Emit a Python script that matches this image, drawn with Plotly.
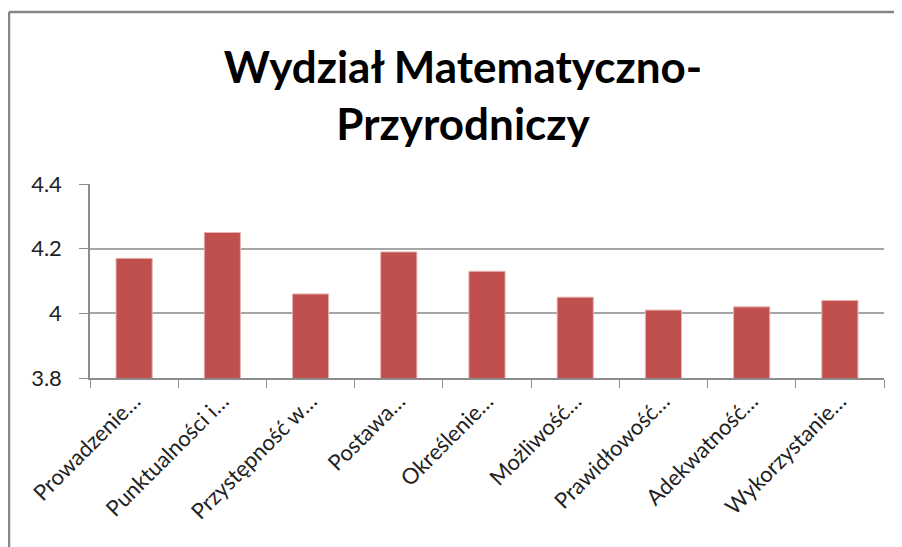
import plotly.graph_objects as go

categories = ["Prowadzenie…", "Punktualności i…", "Przystępność w…", "Postawa…",
              "Określenie…", "Możliwość…", "Prawidłowość…", "Adekwatność…", "Wykorzystanie…"]
values = [4.17, 4.25, 4.06, 4.19, 4.13, 4.05, 4.01, 4.02, 4.04]
y_ticks = [3.8, 4.0, 4.2, 4.4]
y_tick_labels = ["3.8", "4", "4.2", "4.4"]

# page body has an 8px margin; figure coordinates are offset by 8px
OFF = 8
W, H = 902 - OFF, 547 - OFF
L, R, T, B = 90 - OFF, 18, 184 - OFF, 169
pw, ph = W - L - R, H - T - B

def px_x(px):
    return (px - OFF - L) / pw

def px_y(py):
    return (H - B - (py - OFF)) / ph

fig = go.Figure(go.Bar(
    x=categories, y=values,
    marker=dict(color="#C0504D", line=dict(color="#E6B3B2", width=1)),
    width=0.41,
))

fig.update_layout(
    width=W, height=H,
    margin=dict(l=L, r=R, t=T, b=B, autoexpand=False),
    paper_bgcolor="white", plot_bgcolor="white",
    showlegend=False,
    title=dict(
        text="<b>Wydział Matematyczno-<br>Przyrodniczy</b>",
        font=dict(family="Lato", size=44, color="black"),
        x=px_x(463), xref="paper", xanchor="center",
        y=1 - (75 / H), yref="container", yanchor="top",
    ),
    font=dict(family="Lato", color="#222"),
)

fig.update_xaxes(
    type="category", tickson="boundaries",
    ticks="outside", ticklen=8, tickcolor="#8c8c8c",
    showline=True, linecolor="#8c8c8c", linewidth=1.5,
    tickangle=-45, tickfont=dict(size=22, color="#222", family="Lato"),
    showgrid=False, automargin=False,
)
fig.update_yaxes(
    range=[3.8, 4.4], tickvals=y_ticks, ticktext=y_tick_labels,
    ticks="outside", ticklen=9, tickcolor="#8c8c8c",
    showline=True, linecolor="#8c8c8c", linewidth=1.5,
    showgrid=True, gridcolor="#a6a6a6", gridwidth=1.5,
    tickfont=dict(size=22, color="#222", family="Lato"),
    zeroline=False, ticklabelstandoff=13, automargin=False,
)

# chart border
fig.add_shape(type="line", xref="paper", yref="paper",
              x0=px_x(9), x1=px_x(9), y0=px_y(12), y1=px_y(560),
              line=dict(color="#868686", width=2.5))
fig.add_shape(type="line", xref="paper", yref="paper",
              x0=px_x(9), x1=px_x(920), y0=px_y(12), y1=px_y(12),
              line=dict(color="#868686", width=2.5))

fig.write_html("out.html")
